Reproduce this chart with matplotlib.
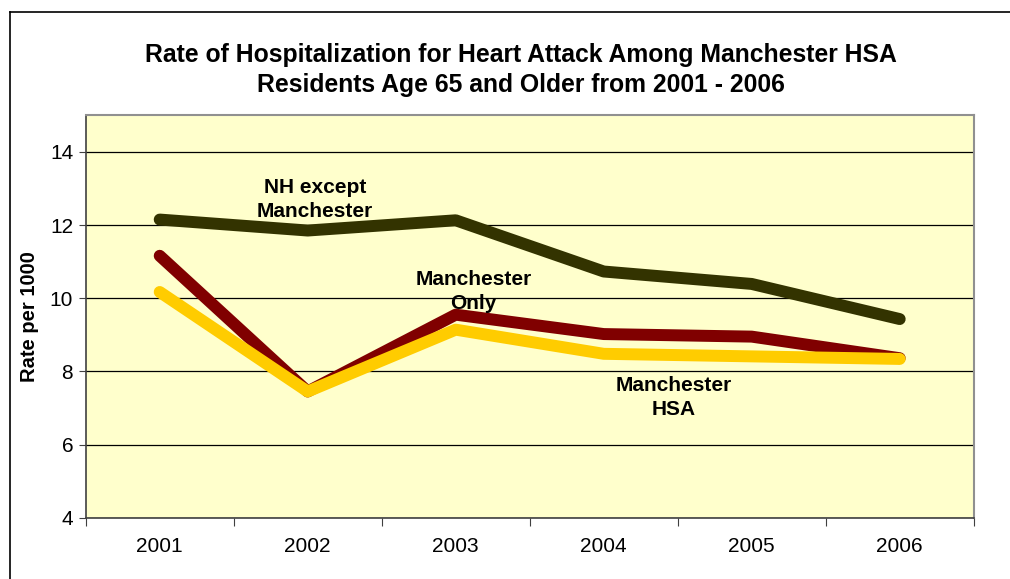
import matplotlib.pyplot as plt
from matplotlib.lines import Line2D

plt.rcParams["font.family"] = ["Liberation Sans", "DejaVu Sans"]

years = ["2001", "2002", "2003", "2004", "2005", "2006"]
nh_except = [12.15, 11.85, 12.13, 10.73, 10.39, 9.43]
manchester_only = [11.16, 7.45, 9.55, 9.02, 8.95, 8.36]
manchester_hsa = [10.17, 7.45, 9.14, 8.48, 8.41, 8.34]

title = ("Rate of Hospitalization for Heart Attack Among Manchester HSA\n"
         "Residents Age 65 and Older from 2001 - 2006")

fig = plt.figure(figsize=(10.1, 5.79), dpi=100)
ax = fig.add_axes([85.7 / 1010, 1 - 517.7 / 579, 888 / 1010, 402.4 / 579])
ax.set_facecolor("#FFFFCC")

x = list(range(len(years)))
line_kw = dict(lw=8.6, solid_capstyle="round", solid_joinstyle="round")
ax.plot(x, nh_except, color="#333300", **line_kw)
ax.plot(x, manchester_only, color="#800000", **line_kw)
ax.plot(x, manchester_hsa, color="#FFCC00", **line_kw)

ax.set_xlim(-0.5, len(years) - 0.5)
ax.set_ylim(4, 15)
ax.set_yticks([4, 6, 8, 10, 12, 14])
ax.yaxis.grid(True, color="black", lw=0.9)
ax.set_axisbelow(True)

# category labels between tick marks
ax.set_xticks([i - 0.5 for i in range(len(years) + 1)])
ax.set_xticklabels([])
ax.set_xticks(x, minor=True)
ax.set_xticklabels(years, minor=True, fontsize=15)
ax.tick_params(axis="x", which="minor", length=0, pad=14)
ax.tick_params(axis="x", which="major", length=6, color="#404040", direction="out")
ax.tick_params(axis="y", length=5, color="#404040", labelsize=15, pad=4)

for side in ["left", "bottom"]:
    ax.spines[side].set_color("#404040")
    ax.spines[side].set_linewidth(1.2)
for side in ["top", "right"]:
    ax.spines[side].set_color("#909090")
    ax.spines[side].set_linewidth(1.5)

ax.set_ylabel("Rate per 1000", fontsize=14.5, fontweight="bold", labelpad=8)

label_kw = dict(ha="center", va="center", fontsize=15, fontweight="bold",
                linespacing=1.35)
ax.text(1.05, 12.69, "NH except\nManchester", **label_kw)
ax.text(2.12, 10.19, "Manchester\nOnly", **label_kw)
ax.text(3.47, 7.29, "Manchester\nHSA", **label_kw)

fig.text(521 / 1010, 1 - 70 / 579, title, ha="center", va="center",
         fontsize=17.8, fontweight="bold", linespacing=1.3)

# outer chart border (left and top edges visible)
fig.add_artist(Line2D([9.5 / 1010, 9.5 / 1010], [0, 1 - 12.3 / 579],
                      transform=fig.transFigure, color="black", lw=1.2))
fig.add_artist(Line2D([9.5 / 1010, 1], [1 - 12.3 / 579, 1 - 12.3 / 579],
                      transform=fig.transFigure, color="black", lw=1.2))

fig.savefig("out.png", dpi=100)
